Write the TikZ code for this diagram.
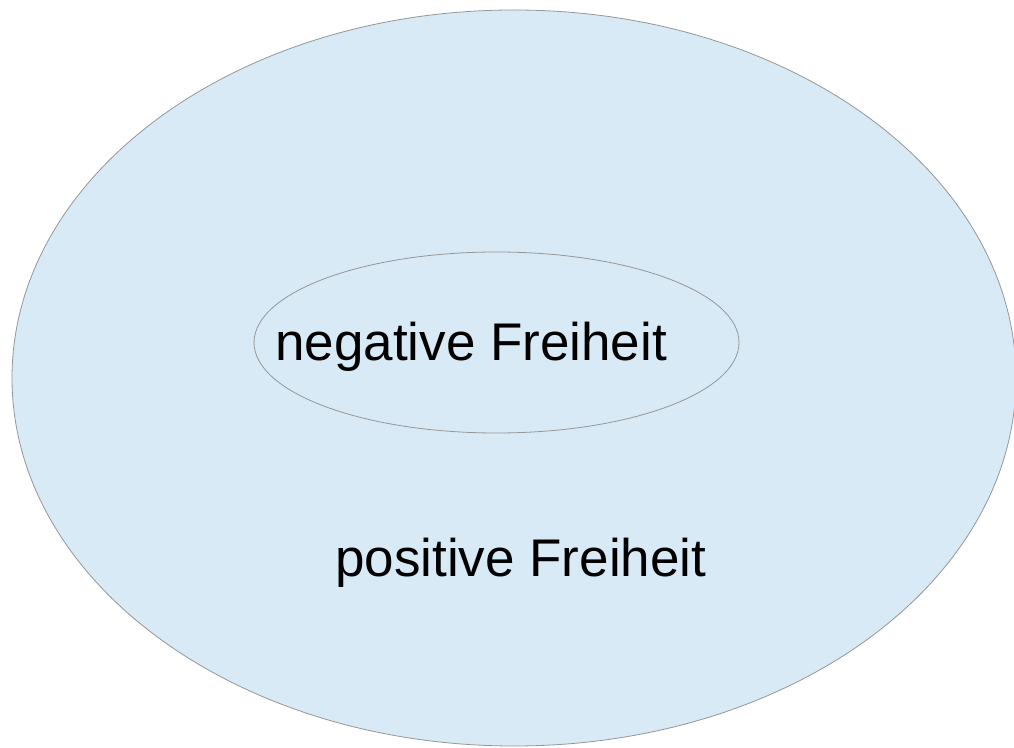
\documentclass[tikz,border=0pt]{standalone}
\usepackage{fontspec}
\setmainfont{Liberation Sans}
\definecolor{fillblue}{RGB}{216,234,246}
\definecolor{edgegrey}{RGB}{150,150,150}
\tikzset{
  region/.style={fill=fillblue, draw=edgegrey, line width=0.8pt},
  label/.style={inner sep=0pt, anchor=base west, font=\fontsize{53}{60}\selectfont, text=black}
}
\begin{document}
\begin{tikzpicture}[x=1pt,y=1pt]
\useasboundingbox (0,0) rectangle (1014,747);
\clip (0,0) rectangle (1014,747);
\draw[region] (514,369) ellipse [x radius=502, y radius=368];
\draw[region] (496.5,404.5) ellipse [x radius=242.5, y radius=90.5];
\node[label] (neg) at (275,386) {negative Freiheit};
\node[label] (pos) at (335,170) {positive Freiheit};
\end{tikzpicture}
\end{document}
